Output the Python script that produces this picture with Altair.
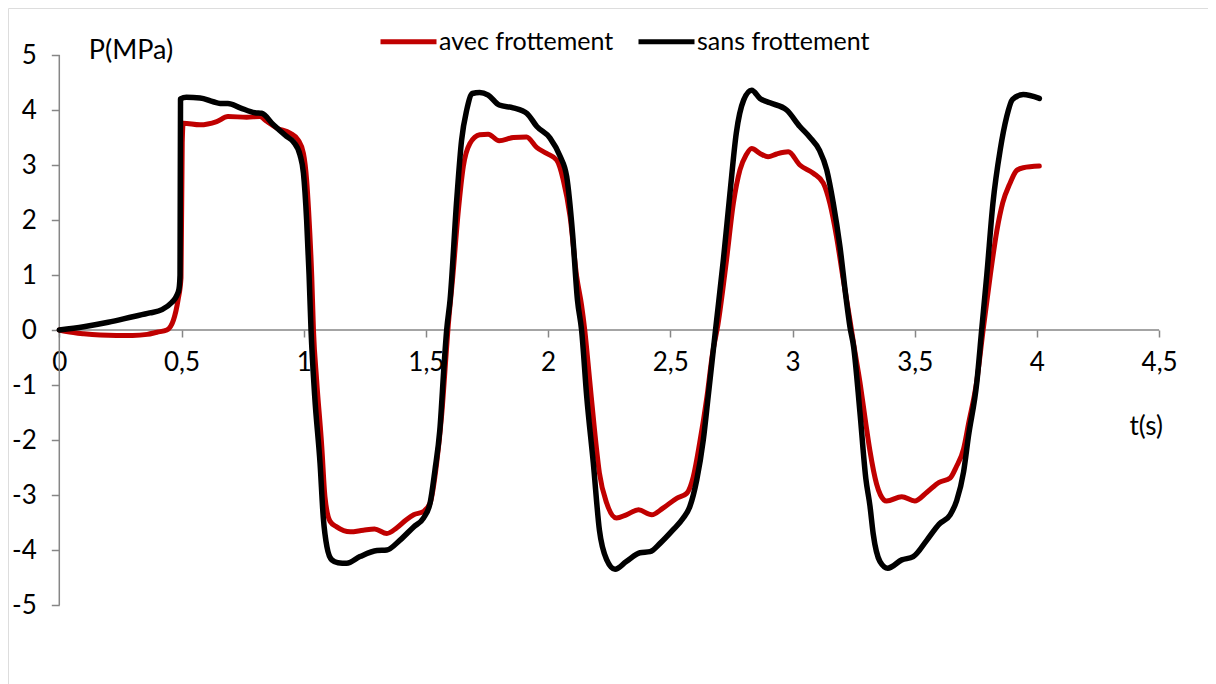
import altair as alt
import pandas as pd

# ---- data ----
SERIES = ["avec frottement", "sans frottement"]
COLORS = ["#C00000", "#000000"]

t_avec = [0, 0.03, 0.1, 0.167, 0.30, 0.36, 0.40, 0.44, 0.467, 0.486, 0.498, 0.503, 0.507,
          0.576, 0.644, 0.69, 0.767, 0.82, 0.85, 0.89, 0.944, 0.978, 0.999, 1.012, 1.02,
          1.033, 1.04, 1.053, 1.074, 1.087, 1.108, 1.135, 1.19, 1.244, 1.29, 1.34, 1.38,
          1.42, 1.45, 1.49, 1.517, 1.544, 1.565, 1.585, 1.59, 1.61, 1.633, 1.653, 1.68,
          1.72, 1.755, 1.80, 1.858, 1.912, 1.953, 1.994, 2.035, 2.062, 2.09, 2.117, 2.137,
          2.15, 2.17, 2.19, 2.21, 2.24, 2.28, 2.32, 2.37, 2.424, 2.47, 2.526, 2.567, 2.594,
          2.62, 2.65, 2.672, 2.695, 2.73, 2.758, 2.785, 2.81, 2.833, 2.867, 2.9, 2.935,
          2.983, 3.03, 3.085, 3.126, 3.153, 3.18, 3.208, 3.235, 3.25, 3.276, 3.30, 3.317,
          3.344, 3.36, 3.385, 3.447, 3.50, 3.55, 3.60, 3.645, 3.67, 3.70, 3.72, 3.754,
          3.78, 3.81, 3.836, 3.86, 3.89, 3.917, 3.944, 4.01]
p_avec = [0, -0.03, -0.07, -0.09, -0.10, -0.08, -0.04, 0.0, 0.18, 0.55, 0.95, 3.4, 3.76,
          3.73, 3.79, 3.88, 3.87, 3.88, 3.79, 3.67, 3.58, 3.45, 3.21, 2.73, 2.18,
          0.97, 0.0, -0.91, -2.12, -3.03, -3.48, -3.58, -3.67, -3.64, -3.62, -3.70, -3.60,
          -3.45, -3.36, -3.30, -3.15, -2.42, -1.52, -0.30, 0.0, 0.97, 2.18, 2.97, 3.39,
          3.55, 3.56, 3.44, 3.50, 3.51, 3.32, 3.21, 3.09, 2.73, 2.06, 0.97, 0.45,
          0.0, -0.91, -1.82, -2.60, -3.15, -3.42, -3.36, -3.27, -3.36, -3.24, -3.06, -2.97, -2.67,
          -2.06, -1.21, -0.45, 0.10, 1.27, 2.30, 2.91, 3.18, 3.30, 3.21, 3.15, 3.20,
          3.24, 3.00, 2.85, 2.67, 2.30, 1.70, 0.91, 0.18, -0.25, -0.95, -1.70, -2.20,
          -2.80, -3.00, -3.11, -3.03, -3.11, -2.95, -2.77, -2.69, -2.49, -2.16, -1.71, -0.93,
          0.0, 1.02, 1.80, 2.31, 2.67, 2.90, 2.95, 2.98]

t_sans = [0, 0.1, 0.2, 0.3, 0.37, 0.42, 0.46, 0.48, 0.49, 0.494, 0.496, 0.52, 0.576,
          0.63, 0.658, 0.69, 0.74, 0.80, 0.828, 0.876, 0.93, 0.958, 0.985, 0.999, 1.012,
          1.022, 1.03, 1.045, 1.067, 1.08, 1.095, 1.115, 1.14, 1.176, 1.23, 1.30, 1.34,
          1.394, 1.45, 1.49, 1.517, 1.537, 1.557, 1.575, 1.585, 1.599, 1.626, 1.646, 1.667,
          1.69, 1.72, 1.755, 1.80, 1.857, 1.913, 1.954, 2.008, 2.05, 2.076, 2.10, 2.12,
          2.137, 2.158, 2.185, 2.21, 2.24, 2.274, 2.32, 2.376, 2.417, 2.458, 2.51, 2.553,
          2.58, 2.608, 2.635, 2.655, 2.685, 2.717, 2.744, 2.77, 2.80, 2.833, 2.867, 2.908,
          2.976, 3.03, 3.07, 3.11, 3.14, 3.167, 3.194, 3.22, 3.235, 3.25, 3.276, 3.30,
          3.317, 3.33, 3.358, 3.39, 3.447, 3.494, 3.55, 3.60, 3.645, 3.672, 3.70, 3.72,
          3.754, 3.774, 3.795, 3.82, 3.85, 3.876, 3.90, 3.944, 4.01]
p_sans = [0, 0.06, 0.14, 0.24, 0.31, 0.37, 0.50, 0.62, 0.75, 1.0, 4.20, 4.23, 4.22,
          4.15, 4.12, 4.12, 4.04, 3.95, 3.94, 3.73, 3.52, 3.42, 3.18, 2.85, 2.0,
          1.0, 0.0, -1.2, -2.43, -3.40, -3.94, -4.18, -4.23, -4.24, -4.12, -4.01, -4.00,
          -3.82, -3.58, -3.42, -3.15, -2.55, -1.82, -0.60, 0.0, 0.55, 2.36, 3.45, 4.00,
          4.30, 4.32, 4.27, 4.09, 4.04, 3.94, 3.70, 3.49, 3.15, 2.79, 1.76, 0.55,
          0.0, -1.21, -2.42, -3.64, -4.18, -4.35, -4.21, -4.05, -4.03, -3.88, -3.64, -3.42,
          -3.21, -2.73, -2.00, -1.21, 0.0, 1.27, 2.48, 3.58, 4.18, 4.36, 4.21, 4.13,
          4.00, 3.70, 3.51, 3.27, 2.91, 2.30, 1.52, 0.55, 0.06, -0.30, -1.50, -2.70,
          -3.20, -3.70, -4.21, -4.33, -4.18, -4.12, -3.82, -3.53, -3.36, -3.10, -2.58, -1.93,
          -0.96, 0.0, 1.00, 2.30, 3.28, 3.87, 4.19, 4.28, 4.21]

X_TICKS = [0, 0.5, 1, 1.5, 2, 2.5, 3, 3.5, 4, 4.5]
Y_TICKS = [-5, -4, -3, -2, -1, 0, 1, 2, 3, 4, 5]

# ---- layout (pixels) ----
W, H = 1200, 677
PX_PER_T = 244.4
PX_PER_P = 55.0
X0_PX = 51.3     # t = 0, from the chart's left edge
Y0_PX = 322.0    # P = 0, from the chart's top edge
x_dom = [-X0_PX / PX_PER_T, (W - X0_PX) / PX_PER_T]
y_dom = [-(H - Y0_PX) / PX_PER_P, Y0_PX / PX_PER_P]

FONT = "Lato"
FS = 26
LEG_FS = 25
AX_COLOR = "#868686"

df = pd.concat([
    pd.DataFrame({"t": t_avec, "P": p_avec, "serie": SERIES[0]}),
    pd.DataFrame({"t": t_sans, "P": p_sans, "serie": SERIES[1]}),
])
axes_df = pd.DataFrame({
    "t": [0, X_TICKS[0]], "t2": [0, X_TICKS[-1]],
    "P": [Y_TICKS[0], 0], "P2": [Y_TICKS[-1], 0],
})

label_expr = "replace(toString(datum.value), '.', ',')"

x_axis = alt.Axis(
    values=X_TICKS, domain=False, grid=False, offset=-(H - Y0_PX),
    tickSize=7, tickColor=AX_COLOR, tickWidth=1.5,
    labelExpr=label_expr, labelFont=FONT, labelFontSize=FS, labelColor="#000",
    labelPadding=12, labelFlush=False, labelOverlap=False,
    title="t(s)", titleX=W - 79, titleY=104, titleAlign="left",
    titleBaseline="alphabetic", titleFont=FONT, titleFontSize=FS,
    titleFontWeight="normal", titleColor="#000",
)
y_axis = alt.Axis(
    values=Y_TICKS, domain=False, grid=False, offset=-X0_PX,
    tickSize=8, tickColor=AX_COLOR, tickWidth=1.5,
    labelExpr=label_expr, labelFont=FONT, labelFontSize=FS, labelColor="#000",
    labelPadding=15, labelOverlap=False,
    title="P(MPa)", titleAngle=0, titleX=29, titleY=50, titleAlign="left",
    titleBaseline="alphabetic", titleFont=FONT, titleFontSize=FS + 1,
    titleFontWeight="normal", titleColor="#000",
)
xs = alt.Scale(domain=x_dom, nice=False, zero=False)
ys = alt.Scale(domain=y_dom, nice=False, zero=False)
cs = alt.Scale(domain=SERIES, range=COLORS)

legend = alt.Legend(
    orient="none", legendX=370, legendY=3, direction="horizontal", title=None,
    symbolType="stroke", symbolSize=3136, symbolStrokeWidth=5,
    labelFont=FONT, labelFontSize=LEG_FS, labelColor="#000", labelOffset=0,
    columnPadding=14, labelLimit=400,
)

rules = alt.Chart(axes_df).mark_rule(color=AX_COLOR, strokeWidth=1.5).encode(
    x=alt.X("t:Q", scale=xs, axis=x_axis),
    x2="t2:Q",
    y=alt.Y("P:Q", scale=ys, axis=y_axis),
    y2="P2:Q",
)

def line_layer(name, width):
    return alt.Chart(df).transform_filter(alt.datum.serie == name).mark_line(
        interpolate="monotone", strokeCap="round", strokeJoin="round", strokeWidth=width
    ).encode(
        x=alt.X("t:Q", scale=xs, axis=x_axis),
        y=alt.Y("P:Q", scale=ys, axis=y_axis),
        color=alt.Color("serie:N", scale=cs, legend=legend),
        order="t:Q",
    )

chart = alt.layer(
    rules,
    line_layer(SERIES[0], 5.0),
    line_layer(SERIES[1], 5.5),
).properties(
    width=W, height=H, autosize="none", padding=0,
).configure_view(
    stroke="#a6a6a6", strokeWidth=1.2,
).configure(font=FONT)

chart.save("out.html", embed_options={"renderer": "svg", "actions": False})
